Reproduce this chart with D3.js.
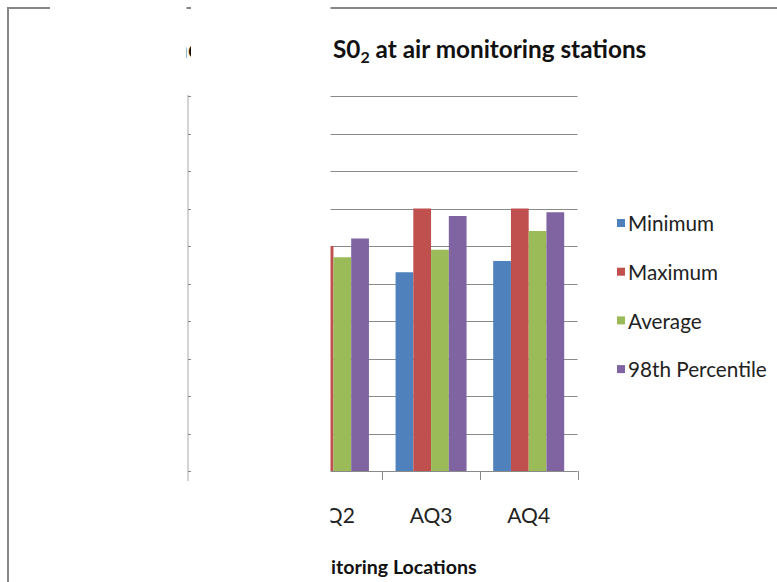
<!DOCTYPE html>
<html><head><meta charset="utf-8">
<script src="https://cdn.jsdelivr.net/npm/d3@7"></script>
<style>html,body{margin:0;padding:0;background:#fff;}svg{display:block;}</style>
</head><body>
<svg id="chart" width="777" height="582"></svg>
<script>
const categories = ["AQ1", "AQ2", "AQ3", "AQ4"];
const seriesNames = ["Minimum", "Maximum", "Average", "98th Percentile"];
const minimum = [4.8, 5.0, 5.3, 5.6];
const maximum = [6.5, 6.0, 7.0, 7.0];
const average = [5.6, 5.7, 5.9, 6.4];
const percentile98 = [6.3, 6.2, 6.8, 6.9];
const yTicks = [0, 1, 2, 3, 4, 5, 6, 7, 8, 9, 10];
const titlePrefix = "Concentration of ";
const titleMain = ["S0", "2", " at air monitoring stations"];
const xTitlePrefix = "Air Mon";
const xTitleMain = "itoring Locations";
const colors = ["#4F81BD", "#C0504D", "#9BBB59", "#8064A2"];
const seriesValues = [minimum, maximum, average, percentile98];

(function () {
const svg = d3.select("#chart");
const font = "Lato, 'Open Sans', sans-serif";
const pLeft = 187, pRight = 577.5, pTop = 96, pBottom = 471;

const x = d3.scaleBand().domain(categories).range([pLeft, pRight]).paddingInner(0).paddingOuter(0);
const x1 = d3.scaleBand().domain(seriesNames).range([0, x.bandwidth()]).paddingInner(0).paddingOuter(0.75);
const y = d3.scaleLinear().domain([0, 10]).range([pBottom, pTop]);
const color = d3.scaleOrdinal().domain(seriesNames).range(colors);

// outer chart border
svg.append("rect").attr("x", 8).attr("y", 8).attr("width", 900).attr("height", 900)
  .attr("fill", "#fff").attr("stroke", "#878787").attr("stroke-width", 2);

// gridlines
svg.append("g").selectAll("line").data(yTicks.slice(1)).join("line")
  .attr("x1", pLeft).attr("x2", pRight)
  .attr("y1", d => Math.round(y(d)) + 0.5).attr("y2", d => Math.round(y(d)) + 0.5)
  .attr("stroke", "#8a8a8a").attr("stroke-width", 1);

// bars
const rows = categories.map((c, i) => ({cat: c, vals: seriesNames.map((s, j) => ({s, v: seriesValues[j][i]}))}));
svg.append("g").selectAll("g").data(rows).join("g")
  .attr("transform", d => `translate(${x(d.cat)},0)`)
  .selectAll("rect").data(d => d.vals).join("rect")
  .attr("x", d => x1(d.s)).attr("width", x1.bandwidth())
  .attr("y", d => y(d.v)).attr("height", d => y(0) - y(d.v))
  .attr("fill", d => color(d.s));

// x axis
const gx = svg.append("g").attr("transform", `translate(0,${pBottom})`);
gx.append("line").attr("x1", pLeft).attr("x2", pRight).attr("y1", 0.5).attr("y2", 0.5)
  .attr("stroke", "#8a8a8a");
const bounds = categories.map(c => x(c)).concat([pRight]);
gx.selectAll("line.tk").data(bounds).join("line").attr("class", "tk")
  .attr("x1", d => Math.round(d) + 0.5).attr("x2", d => Math.round(d) + 0.5)
  .attr("y1", 0).attr("y2", 9).attr("stroke", "#8a8a8a");
gx.selectAll("text").data(categories).join("text")
  .attr("x", d => x(d) + x.bandwidth() / 2).attr("y", 52)
  .attr("text-anchor", "middle").attr("font-family", font).attr("font-size", 21)
  .attr("fill", "#222").text(d => d);

// y axis line + ticks
svg.append("line").attr("x1", 188).attr("x2", 188).attr("y1", pTop - 1).attr("y2", pBottom + 10)
  .attr("stroke", "#d4d4d4").attr("stroke-width", 2);
svg.append("g").selectAll("line").data(yTicks).join("line")
  .attr("x1", 188).attr("x2", 191)
  .attr("y1", d => Math.round(y(d)) + 0.5).attr("y2", d => Math.round(y(d)) + 0.5)
  .attr("stroke", "#8a8a8a");

// title
const title = svg.append("text").attr("y", 58).attr("font-family", font)
  .attr("font-size", 24.3).attr("font-weight", "bold").attr("fill", "#111");
const tp = title.append("tspan").text(titlePrefix);
title.append("tspan").text(titleMain[0]);
title.append("tspan").attr("font-size", 16).attr("dy", 5).text(titleMain[1]);
title.append("tspan").attr("dy", -5).text(titleMain[2]);
title.attr("x", 333 - tp.node().getComputedTextLength());

// x axis title
const xt = svg.append("text").attr("y", 574).attr("font-family", font)
  .attr("font-size", 19.6).attr("font-weight", "bold").attr("fill", "#111");
const xtp = xt.append("tspan").text(xTitlePrefix);
xt.append("tspan").text(xTitleMain);
xt.attr("x", 331 - xtp.node().getComputedTextLength());

// legend
const lg = svg.append("g").selectAll("g").data(seriesNames).join("g")
  .attr("transform", (d, i) => `translate(617,${223 + i * 48.7})`);
lg.append("rect").attr("x", 0).attr("y", -4).attr("width", 8).attr("height", 8).attr("fill", d => color(d));
lg.append("text").attr("x", 11).attr("y", 1).attr("dy", "0.35em")
  .attr("font-family", font).attr("font-size", 20.7).attr("fill", "#222").text(d => d);

// white masks that hide the left part of the chart
const masks = [
  {x: 9, y: 9, w: 177.5, h: 600},
  {x: 50, y: 0, w: 136.5, h: 10},
  {x: 191, y: 0, w: 139.5, h: 600}
];
svg.append("g").selectAll("rect").data(masks).join("rect")
  .attr("x", d => d.x).attr("y", d => d.y).attr("width", d => d.w).attr("height", d => d.h)
  .attr("fill", "#fff");
})();
</script>
</body></html>
